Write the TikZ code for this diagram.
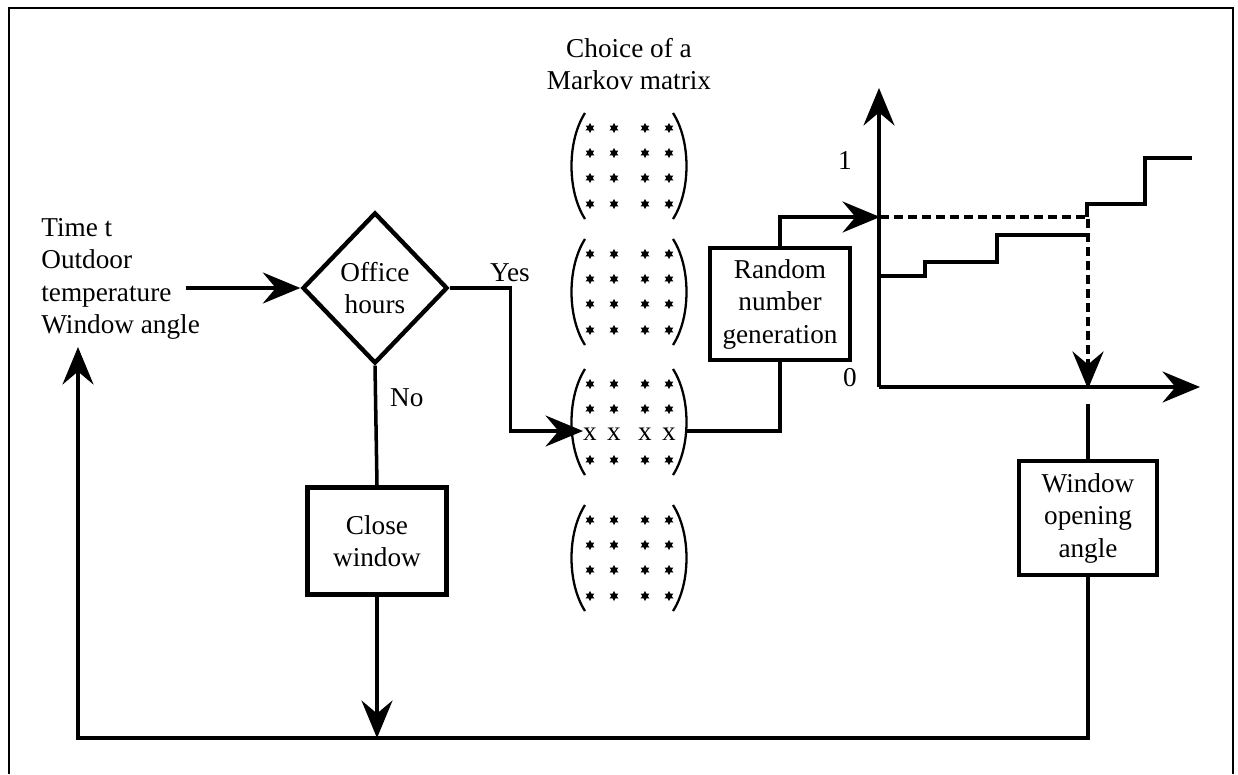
\documentclass[tikz,border=0pt]{standalone}
\usepackage{fontspec}
\setmainfont{Liberation Serif}
\usetikzlibrary{shapes.geometric,arrows.meta}

\begin{document}
\begin{tikzpicture}[x=0.2mm,y=-0.2mm,
    every node/.style={font=\fontsize{15.5pt}{18.5pt}\selectfont},
    box/.style={draw, line width=2.5pt, align=center, inner sep=0pt},
    flow/.style={line width=2pt},
    tip/.style={-{Stealth[length=7.5mm,width=6.2mm,inset=2.6mm]}},
    paren/.style={line width=1.3pt},
    entry/.style={star, star points=6, star point ratio=1.8, fill=black, inner sep=0pt, minimum size=2mm}
    ]
    % Page and frame
    \useasboundingbox (0,0) rectangle (1238,774);
    \draw[line width=1pt] (9,774) -- (9,8) -- (1233,8) -- (1233,774);

    % Inputs and decision
    \node[align=left, anchor=west, inner sep=0pt] (inputs) at (41,279) {Time t\\Outdoor\\temperature\\Window angle};
    \coordinate (instart) at (186,288);
    \node[diamond, draw, line width=2.5pt, minimum width=29mm, minimum height=30.2mm, inner sep=0pt, align=center] (office) at (375,288) {Office\\hours};
    \draw[flow,tip] (instart) -- (office.west);
    \node (yes) at (510,273) {Yes};
    \node[anchor=west] (no) at (384,398) {No};

    % Close window branch
    \node[box, minimum width=27.8mm, minimum height=21.4mm] (close) at (377,541) {Close\\window};
    \draw[flow] (office.south) -- (close.north);

    % Markov matrices
    \node[align=center] (choice) at (629,64) {Choice of a\\Markov matrix};
    \foreach \my [count=\m] in {166,292,422,558} {
        \node[minimum width=22.4mm, minimum height=21.2mm, inner sep=0pt] (mat\m) at (629,\my) {};
        % brackets
        \draw[paren] (585,\my-53) .. controls (567,\my-25) and (567,\my+25) .. (585,\my+53);
        \draw[paren] (673,\my-53) .. controls (691,\my-25) and (691,\my+25) .. (673,\my+53);
        % entries
        \foreach \r [count=\ri] in {-38,-13,12,38} {
            \pgfmathtruncatemacro{\isx}{and(\m==3,\r==12)}
            \foreach \c [count=\ci] in {590,614,645,669} {
                \ifnum\isx=1
                    \node[inner sep=0pt] (m\m-\ri-\ci) at (\c,\my+\r) {x};
                \else
                    \node[entry] (m\m-\ri-\ci) at (\c,\my+\r) {};
                \fi
            }
        }
    }
    \coordinate (matin) at (583,431);
    \coordinate (matout) at (687,431);
    \draw[flow,tip] (office.east) -- ++(61,0) |- (matin);

    % Random number generation
    \node[box, minimum width=28mm, minimum height=22.4mm] (rng) at (780,304) {Random\\number\\generation};
    \draw[flow] (matout) -| (rng.south);

    % Cumulative distribution
    \coordinate (origin) at (879,387);
    \coordinate (ytop) at (879,88);
    \coordinate (xend) at (1200,387);
    \coordinate (draw1) at (880,217);
    \coordinate (reading) at (1088,389);
    \draw[flow,tip] (origin) -- (ytop);
    \draw[flow,tip] (origin) -- (xend);
    \node (one) at (845,160) {1};
    \node (zero) at (850,378) {0};
    \draw[flow,tip] (rng.north) |- (draw1);
    \draw[flow] (881,276) -- (925,276) -- (925,262) -- (997,262) -- (997,235) -- (1087,235);
    \draw[flow] (1087,217) -- (1087,204) -- (1145,204) -- (1145,158) -- (1192,158);
    \draw[flow,line width=2.4pt,dash pattern=on 1.8mm off 1mm,tip] (draw1) -| (reading);

    % Window opening angle and feedback loop
    \node[box, minimum width=27.6mm, minimum height=22.8mm] (wangle) at (1088,518) {Window\\opening\\angle};
    \draw[flow] (wangle.north) -- ++(0,-55);
    \coordinate (loopcorner) at (78,738);
    \coordinate (feedtip) at (78,347);
    \draw[flow,tip] (wangle.south) |- (loopcorner) -- (feedtip);
    \draw[flow,tip] (close.south) -- (close.south |- loopcorner);
\end{tikzpicture}
\end{document}
